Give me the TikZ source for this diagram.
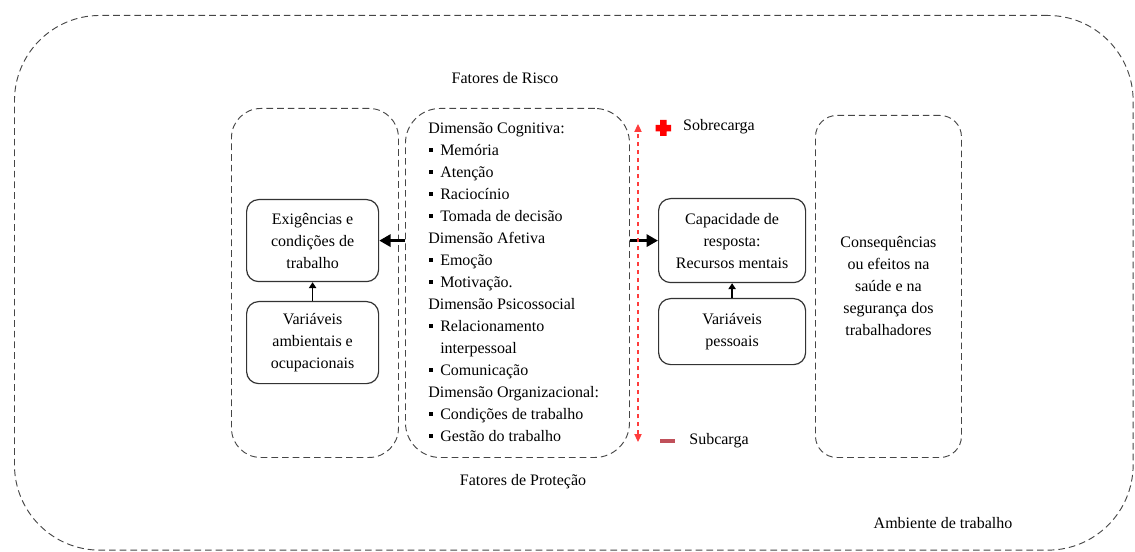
\documentclass[tikz,border=0pt]{standalone}
\usepackage{fontspec}
\setmainfont{Liberation Serif}
\newfontfamily\tnr{Liberation Serif}
\usepackage{tikz}
\usetikzlibrary{arrows.meta}
\definecolor{traco}{RGB}{70,70,70}
\definecolor{vermelho}{RGB}{255,60,60}
\definecolor{menos}{RGB}{192,80,90}
\newcommand{\itm}{\makebox[9pt][l]{\hspace{0.75pt}\rule[2.6pt]{3pt}{3pt}}}

\begin{document}
\begin{tikzpicture}[x=0.75pt, y=-0.75pt,
    every node/.style={font=\tnr\fontsize{12pt}{16.5pt}\selectfont},
    regiao/.style={draw=traco, dashed, dash pattern=on 5pt off 3pt, line width=0.7pt, anchor=north west},
    caixa/.style={draw=black!80, line width=0.9pt, rounded corners=9pt, anchor=north west, align=center},
    seta/.style={-{Triangle[length=8.5pt,width=9pt]}, line width=2.2pt},
    setafina/.style={-{Triangle[length=4.5pt,width=5.5pt]}, line width=1.2pt}]
  \useasboundingbox (0,0) rectangle (1135,552);
  % ambiente
  \node[regiao, rounded corners=64pt, minimum width=839pt, minimum height=401pt] (amb) at (14,15) {};
  \node (risco) at (505,78) {Fatores de Risco};
  \node (protecao) at (523,482) {Fatores de Proteção};
  \node (ambtxt) at (943,523) {Ambiente de trabalho};
  % regioes
  \node[regiao, rounded corners=22pt, minimum width=125.25pt, minimum height=261.75pt] (esq) at (231,108) {};
  \node[regiao, rounded corners=26pt, minimum width=168pt, minimum height=261.75pt] (dim) at (405,108) {};
  \node[regiao, rounded corners=16pt, minimum width=109.5pt, minimum height=256.5pt, align=center] (cons) at (815,115)
    {Consequências\\ou efeitos na\\saúde e na\\segurança dos\\trabalhadores};
  % dimensoes
  \node[anchor=north west, inner sep=0pt, align=left] (dimtxt) at (428,122) {Dimensão Cognitiva:\\
    \itm Memória\\ \itm Atenção\\ \itm Raciocínio\\ \itm Tomada de decisão\\
    Dimensão Afetiva\\ \itm Emoção\\ \itm Motivação.\\
    Dimensão Psicossocial\\ \itm Relacionamento\\ \hspace*{9pt}interpessoal\\ \itm Comunicação\\
    Dimensão Organizacional:\\ \itm Condições de trabalho\\ \itm Gestão do trabalho};
  % caixas
  \node[caixa, minimum width=99pt, minimum height=61.5pt] (exig) at (246,199) {Exigências e\\condições de\\trabalho};
  \node[caixa, minimum width=99pt, minimum height=61.5pt] (varamb) at (246,301) {Variáveis\\ambientais e\\ocupacionais};
  \node[caixa, minimum width=110.25pt, minimum height=63pt] (cap) at (658,198) {Capacidade de\\resposta:\\Recursos mentais};
  \node[caixa, minimum width=110.25pt, minimum height=49.5pt] (varpes) at (658,298) {Variáveis\\pessoais};
  \draw[setafina] (varamb) -- (exig);
  \draw[setafina] (varpes) -- (cap);
  \draw[seta] (exig.east -| dim.west) -- (exig.east);
  \draw[seta] (cap.west -| dim.east) -- (cap.west);
  % sobrecarga / subcarga
  \coordinate (topo) at (638,124);
  \coordinate (base) at (638,442);
  \draw[vermelho, dashed, dash pattern=on 3.5pt off 2.5pt, line width=0.8pt,
    {Triangle[length=6pt,width=5.5pt]}-{Triangle[length=6pt,width=5.5pt]}] (base) -- (topo);
  \fill[red] (660,120) rectangle (666.5,136) (655.5,125) rectangle (671,131.5);
  \node (sobre) at (719,127) {Sobrecarga};
  \draw[menos, line width=2.4pt] (660,441) -- (675,441);
  \node (sub) at (719,441) {Subcarga};
\end{tikzpicture}
\end{document}
